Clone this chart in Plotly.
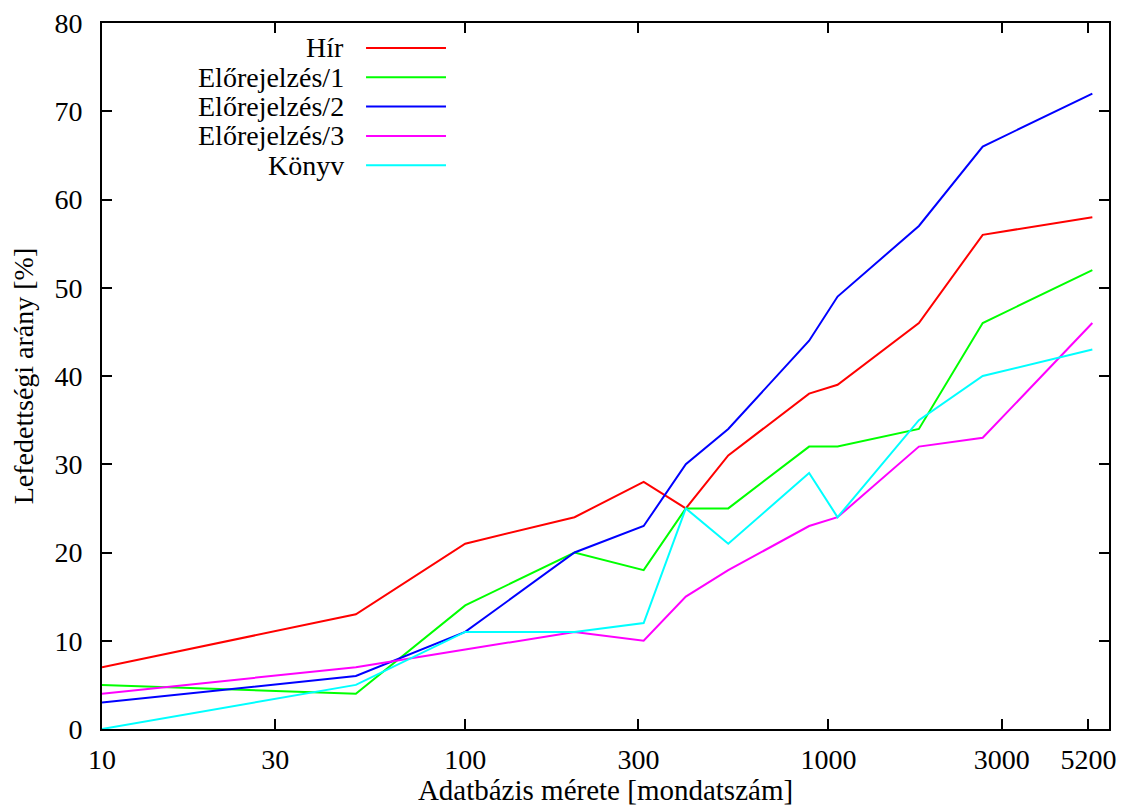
import plotly.graph_objects as go

# Data
sizes = [10, 50, 100, 200, 310, 405, 530, 885, 1060, 1775, 2660, 5330]
hir = [7, 13, 21, 24, 28, 25, 31, 38, 39, 46, 56, 58]
elo1 = [5, 4, 14, 20, 18, 25, 25, 32, 32, 34, 46, 52]
elo2 = [3, 6, 11, 20, 23, 30, 34, 44, 49, 57, 66, 72]
elo3 = [4, 7, 9, 11, 10, 15, 18, 23, 24, 32, 33, 46]
konyv = [0, 5, 11, 11, 12, 25, 21, 29, 24, 35, 40, 43]

series_names = ["Hír", "Előrejelzés/1", "Előrejelzés/2", "Előrejelzés/3", "Könyv"]
series_values = [hir, elo1, elo2, elo3, konyv]
colors = ["#ff0000", "#00ff00", "#0000ff", "#ff00ff", "#00ffff"]

x_ticks = [10, 30, 100, 300, 1000, 3000, 5200]
x_tick_labels = ["10", "30", "100", "300", "1000", "3000", "5200"]
y_ticks = list(range(0, 81, 10))

FONT = "'Liberation Serif', 'Times New Roman', Times, serif"
FS = 28

fig = go.Figure()
for name, vals, col in zip(series_names, series_values, colors):
    fig.add_trace(go.Scatter(x=sizes, y=vals, mode="lines", name=name,
                             line=dict(color=col, width=2), showlegend=False))

# Manual gnuplot-style legend: right-aligned text with sample line to the right
leg_x_text = 0.2423
leg_x0, leg_x1 = 0.2622, 0.3416
leg_y0 = 0.9646
leg_dy = 0.0415
for i, (name, col) in enumerate(zip(series_names, colors)):
    yy = leg_y0 - i * leg_dy
    fig.add_annotation(x=leg_x_text, y=yy, xref="paper", yref="paper",
                       text=name, showarrow=False, xanchor="right", yanchor="middle",
                       font=dict(family=FONT, size=FS, color="black"))
    fig.add_shape(type="line", xref="paper", yref="paper",
                  x0=leg_x0, x1=leg_x1, y0=yy, y1=yy,
                  line=dict(color=col, width=2))

fig.update_layout(
    width=1120, height=798,
    margin=dict(l=94, r=19, t=15, b=77),
    paper_bgcolor="white", plot_bgcolor="white",
    font=dict(family=FONT, size=FS, color="black"),
    showlegend=False,
)
fig.update_xaxes(
    type="log", range=[1, 3.7726],
    tickvals=x_ticks, ticktext=x_tick_labels,
    ticks="inside", ticklen=10, tickwidth=1.5, tickcolor="black",
    showline=True, linewidth=2, linecolor="black", mirror="ticks",
    showgrid=False, zeroline=False,
    title=dict(text="Adatbázis mérete [mondatszám]", standoff=8,
               font=dict(family=FONT, size=29)),
    tickfont=dict(family=FONT, size=FS),
    ticklabelstandoff=4,
    ticklabeloverflow="allow",
    automargin=False,
)
fig.update_yaxes(
    range=[0, 80], tickvals=y_ticks,
    ticks="inside", ticklen=10, tickwidth=1.5, tickcolor="black",
    showline=True, linewidth=2, linecolor="black", mirror="ticks",
    showgrid=False, zeroline=False,
    title=dict(text="Lefedettségi arány [%]", standoff=18,
               font=dict(family=FONT, size=28)),
    tickfont=dict(family=FONT, size=FS),
    ticklabelstandoff=12,
    ticklabeloverflow="allow",
    automargin=False,
)

fig.write_html("out.html")
